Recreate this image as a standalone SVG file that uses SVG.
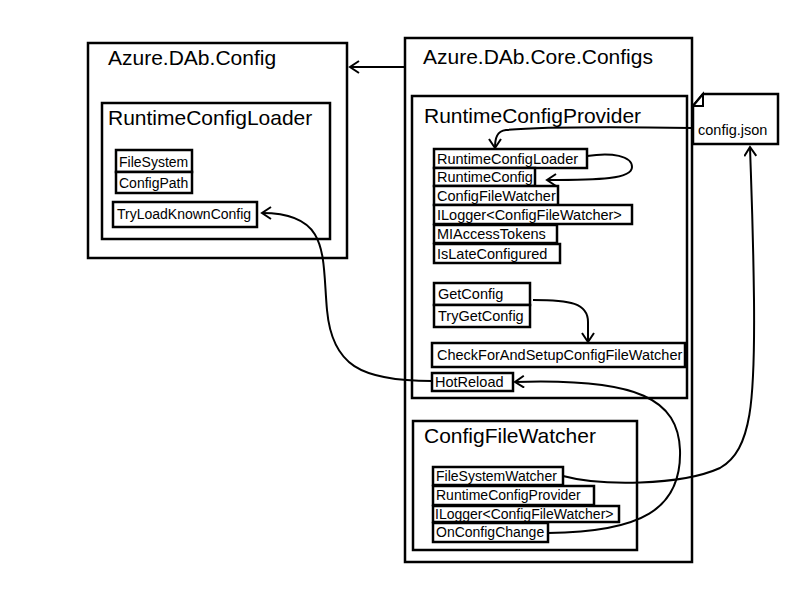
<svg xmlns="http://www.w3.org/2000/svg" width="800" height="600" viewBox="0 0 800 600">
<defs>
<marker id="arr" markerUnits="userSpaceOnUse" markerWidth="14" markerHeight="14" refX="10" refY="6.5" orient="auto">
<path d="M1,0.5 L10,6.5 L1,12.5" fill="none" stroke="#000" stroke-width="2"/>
</marker>
<style>
rect, .box { fill: #fff; stroke: #000; stroke-width: 2.5; }
.title { font-family: "Liberation Sans", Arial, sans-serif; font-size: 21px; fill: #000; }
.item { font-family: "Liberation Sans", Arial, sans-serif; font-size: 14.5px; fill: #000; }
.small { font-family: "Liberation Sans", Arial, sans-serif; font-size: 14px; fill: #000; }
.conn { fill: none; stroke: #000; stroke-width: 2; marker-end: url(#arr); }
</style>
</defs>
<rect x="0" y="0" width="800" height="600" style="fill:#fff;stroke:none"/>

<g id="azure-dab-config">
<rect x="88" y="43" width="259" height="215"/>
<text class="title" x="108" y="65">Azure.DAb.Config</text>
<g id="runtime-config-loader">
<rect x="102" y="103" width="228" height="136"/>
<text class="title" x="108" y="125">RuntimeConfigLoader</text>
<g id="loader-filesystem"><rect x="116" y="150" width="76" height="22"/><text class="small" x="119" y="167">FileSystem</text></g>
<g id="loader-configpath"><rect x="116" y="172" width="76" height="21"/><text class="small" x="119" y="188">ConfigPath</text></g>
<g id="loader-tryload"><rect x="113" y="202" width="144" height="25"/><text class="small" x="117" y="219">TryLoadKnownConfig</text></g>
</g>
</g>

<g id="azure-dab-core-configs">
<rect x="405" y="38" width="287" height="524"/>
<text class="title" x="423" y="64">Azure.DAb.Core.Configs</text>
<g id="runtime-config-provider">
<rect x="412" y="96" width="275" height="302"/>
<text class="title" x="424" y="123">RuntimeConfigProvider</text>
<g id="p-loader"><rect x="434" y="149" width="153" height="19"/><text class="item" x="437" y="164">RuntimeConfigLoader</text></g>
<g id="p-config"><rect x="434" y="168" width="101" height="18"/><text class="item" x="437" y="182">RuntimeConfig</text></g>
<g id="p-watcher"><rect x="434" y="186" width="124" height="19"/><text class="item" x="437" y="201">ConfigFileWatcher</text></g>
<g id="p-logger"><rect x="434" y="205" width="198" height="19"/><text class="item" x="437" y="220">ILogger&lt;ConfigFileWatcher&gt;</text></g>
<g id="p-tokens"><rect x="434" y="225" width="123" height="18"/><text class="item" x="437" y="239">MIAccessTokens</text></g>
<g id="p-late"><rect x="434" y="244" width="126" height="19"/><text class="item" x="437" y="259">IsLateConfigured</text></g>
<g id="p-getconfig"><rect x="434" y="283" width="96" height="22"/><text class="item" x="438" y="299">GetConfig</text></g>
<g id="p-trygetconfig"><rect x="434" y="305" width="96" height="22"/><text class="item" x="438" y="321">TryGetConfig</text></g>
<g id="p-check"><rect x="432" y="343" width="253" height="24"/><text class="item" x="437" y="360">CheckForAndSetupConfigFileWatcher</text></g>
<g id="p-hotreload"><rect x="432" y="373" width="81" height="18"/><text class="item" x="435" y="387">HotReload</text></g>
</g>
<g id="config-file-watcher">
<rect x="413" y="421" width="224" height="129"/>
<text class="title" x="424" y="443">ConfigFileWatcher</text>
<g id="w-fsw"><rect x="433" y="467" width="130" height="18"/><text class="small" x="436" y="481">FileSystemWatcher</text></g>
<g id="w-provider"><rect x="433" y="486" width="161" height="19"/><text class="small" x="436" y="500">RuntimeConfigProvider</text></g>
<g id="w-logger"><rect x="433" y="506" width="186" height="16"/><text class="small" x="435" y="519">ILogger&lt;ConfigFileWatcher&gt;</text></g>
<g id="w-change"><rect x="433" y="523" width="115" height="19"/><text class="small" x="436" y="537">OnConfigChange</text></g>
</g>
</g>

<g id="config-json">
<path class="box" d="M703,94 L778,94 L778,144 L693,144 L693,106 Z"/>
<path d="M703,94 L703,106 L693,106 Z" fill="#fff" stroke="#000" stroke-width="2"/>
<text class="item" x="698" y="135">config.json</text>
</g>

<g id="connectors">
<path class="conn" d="M404,67 L350,67"/>
<path class="conn" d="M692,128 C620,127 540,127 506,130 C497,131 495,138 495,148"/>
<path class="conn" d="M587,156 C612,152 632,156 632,167 C632,179 600,180 547,180"/>
<path class="conn" d="M533,300 C570,300 588,303 588,322 L588,342"/>
<path class="conn" d="M432,381 C360,381 332,365 327,310 C322,255 330,213 262,213"/>
<path class="conn" d="M548,533 C640,532 682,510 680,450 C678,400 640,378 515,382"/>
<path class="conn" d="M563,476 C600,486 680,486 720,468 C752,450 755,400 754,300 C753,220 751,180 750,147"/>
</g>
</svg>
